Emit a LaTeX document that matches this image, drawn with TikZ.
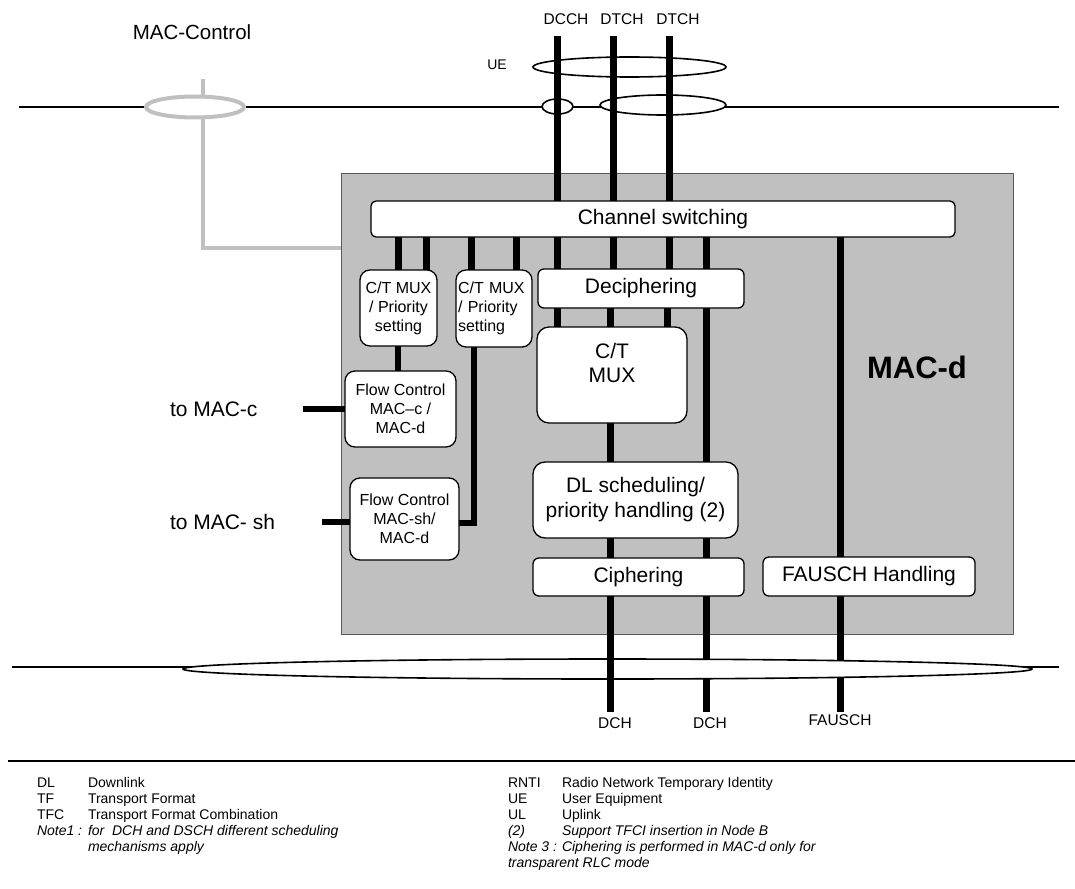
\documentclass[tikz,border=0pt]{standalone}
\usepackage{fontspec}
\setmainfont{Liberation Sans}
\usetikzlibrary{shapes.geometric}
\definecolor{boxgray}{RGB}{192,192,192}
\definecolor{edgegray}{RGB}{90,90,90}
\newcommand{\fsz}[2]{\fontsize{#1}{#2}\selectfont}
\pgfdeclarelayer{bg}
\pgfdeclarelayer{lines}
\pgfdeclarelayer{fg}
\pgfsetlayers{bg,lines,main,fg}
\tikzset{
  chan/.style={line width=7pt, black},
  link/.style={line width=6.5pt, black},
  graylink/.style={line width=4pt, boxgray},
  hline/.style={line width=1.6pt, black},
  rbox/.style={draw=black, line width=1.3pt, fill=white, inner sep=0pt, outer sep=0pt, align=center},
  ell/.style={ellipse, draw=black, line width=1.6pt, fill=white, inner sep=0pt, outer sep=0pt},
  lbl/.style={inner sep=0pt, outer sep=0pt},
  leg/.style={inner sep=0pt, outer sep=0pt, anchor=base west, font={\fsz{14}{17}}},
}
\begin{document}
\begin{tikzpicture}[x=1pt,y=-1pt]
\useasboundingbox (0,0) rectangle (1075,888);

% MAC-d frame
\begin{pgfonlayer}{bg}
\node[draw=edgegray, fill=boxgray, line width=0.8pt, minimum width=672pt, minimum height=461pt, inner sep=0pt, outer sep=0pt] (macd) at (677,403.5) {};
\end{pgfonlayer}
\node[lbl, font={\bfseries\fsz{31}{36}}] (macdlbl) at (917,367) {MAC-d};

% boxes
\node[rbox, rounded corners=5pt, minimum width=584pt, minimum height=36pt, font={\fsz{21}{25}}] (cs) at (663,219) {Channel switching};
\node[rbox, rounded corners=10pt, minimum width=77pt, minimum height=76pt, font={\fsz{16}{19}}] (b1) at (398.5,308) {C/T MUX\\/ Priority\\setting};
\node[rbox, rounded corners=10pt, minimum width=76pt, minimum height=77pt, text width=72pt, inner xsep=2pt, align=left, font={\fsz{16}{19}}] (b2) at (494,308.5) {C/T MUX\\/ Priority\\setting};
\node[rbox, rounded corners=10pt, minimum width=111pt, minimum height=76pt, font={\fsz{16}{19}}] (fc1) at (400.5,409) {Flow Control\\MAC--c /\\MAC-d};
\node[rbox, rounded corners=10pt, minimum width=109pt, minimum height=82pt, font={\fsz{16}{19}}] (fc2) at (404.5,519) {Flow Control\\MAC-sh/\\MAC-d};
\node[rbox, rounded corners=6pt, minimum width=206pt, minimum height=39pt, font={\fsz{21}{25}}] (dec) at (641,288.5) {Deciphering};
\node[rbox, rounded corners=12pt, minimum width=150pt, minimum height=96pt, font={\fsz{21}{24}}] (ctm) at (612,375) {C/T\\MUX\\\mbox{}};
\node[rbox, rounded corners=12pt, minimum width=205pt, minimum height=76pt, font={\fsz{21}{25}}] (dls) at (635.5,500) {DL scheduling/\\priority handling (2)};
\node[rbox, rounded corners=6pt, minimum width=211pt, minimum height=38pt, font={\fsz{21}{25}}] (cip) at (638.5,577) {Ciphering};
\node[rbox, rounded corners=6pt, minimum width=212pt, minimum height=39pt, font={\fsz{21}{25}}] (fau) at (869,576.5) {FAUSCH Handling};

% top part
\coordinate (tl) at (19,107);
\coordinate (tr) at (1059,107);
\coordinate (gtop) at (203,79);
\coordinate (gbend) at (203,248);
\begin{pgfonlayer}{bg}
\draw[hline] (tl) -- (tr);
\draw[graylink] (gtop) -- (gbend) -- (gbend -| macd.west);
\end{pgfonlayer}
\node[ellipse, draw=boxgray, line width=4pt, fill=white, inner sep=0pt, minimum width=98pt, minimum height=21pt] (gell) at (195,107) {};
\node[lbl, font={\fsz{20.5}{24}}] (macctl) at (192,32) {MAC-Control};

\node[ell, minimum width=193pt, minimum height=20pt] (ueell) at (629.5,67) {};
\node[ell, minimum width=31pt, minimum height=15pt] (sell) at (557.5,106.5) {};
\node[ell, minimum width=126pt, minimum height=20pt] (rell) at (663,105) {};
\node[lbl, font={\fsz{14}{17}}] (uelbl) at (497,65) {UE};
\node[lbl, font={\fsz{15.5}{18}}] (dcchl) at (566,19) {DCCH};
\node[lbl, font={\fsz{15.5}{18}}] (dtchl1) at (622,19) {DTCH};
\node[lbl, font={\fsz{15.5}{18}}] (dtchl2) at (678,19) {DTCH};

\coordinate (c1) at (557,36);
\coordinate (c2) at (613,36);
\coordinate (c3) at (669,36);
\begin{pgfonlayer}{fg}
\draw[chan] (c1) -- (c1 |- cs.north);
\draw[chan] (c2) -- (c2 |- cs.north);
\draw[chan] (c3) -- (c3 |- cs.north);
\end{pgfonlayer}

% inner connectors
\coordinate (x1) at (398,0);
\coordinate (x2) at (426,0);
\coordinate (x3) at (471,0);
\coordinate (x4) at (516,0);
\coordinate (x6) at (610,0);
\coordinate (x7) at (667,0);
\coordinate (bend2) at (474,523);
\coordinate (tomacc) at (303,409);
\coordinate (tomacsh) at (322,522);
\coordinate (e1) at (610,712);
\coordinate (e2) at (706,712);
\coordinate (e3) at (840,712);
\begin{pgfonlayer}{lines}
\draw[chan] (x1 |- cs.south) -- (x1 |- b1.north);
\draw[chan] (x2 |- cs.south) -- (x2 |- b1.north);
\draw[chan] (x3 |- cs.south) -- (x3 |- b2.north);
\draw[chan] (x4 |- cs.south) -- (x4 |- b2.north);
\draw[chan] (c1 |- cs.south) -- (c1 |- dec.north);
\draw[chan] (c2 |- cs.south) -- (c2 |- dec.north);
\draw[chan] (c3 |- cs.south) -- (c3 |- dec.north);
\draw[chan] (c1 |- dec.south) -- (c1 |- ctm.north);
\draw[chan] (x6 |- dec.south) -- (x6 |- ctm.north);
\draw[chan] (x7 |- dec.south) -- (x7 |- ctm.north);
\draw[chan] (x6 |- ctm.south) -- (x6 |- dls.north);
\draw[chan] (x6 |- dls.south) -- (x6 |- cip.north);
\draw[chan] (e2 |- cs.south) -- (e2);
\draw[chan] (e3 |- cs.south) -- (e3);
\draw[link] (x1 |- b1.south) -- (x1 |- fc1.north);
\draw[link] (tomacc) -- (fc1.west);
\draw[link] (tomacsh) -- (tomacsh -| fc2.west);
\draw[link] (bend2 |- b2.south) -- (bend2) -- (bend2 -| fc2.east);
\end{pgfonlayer}
\node[lbl, anchor=west, font={\fsz{21}{24}}] (tomaccl) at (170,409) {to MAC-c};
\node[lbl, anchor=west, font={\fsz{21}{24}}] (tomacshl) at (170,522) {to MAC- sh};

% bottom
\coordinate (bl) at (12,667);
\coordinate (br) at (1059,667);
\begin{pgfonlayer}{bg}
\draw[hline] (bl) -- (br);
\end{pgfonlayer}
\node[ell, minimum width=849pt, minimum height=20pt] (bell) at (607.5,669) {};
\begin{pgfonlayer}{fg}
\draw[chan] (x6 |- cip.south) -- (e1);
\end{pgfonlayer}
\node[lbl, font={\fsz{15.5}{18}}] (dch1) at (615,723) {DCH};
\node[lbl, font={\fsz{15.5}{18}}] (dch2) at (710,723) {DCH};
\node[lbl, font={\fsz{15.5}{18}}] (fauschl) at (840,720) {FAUSCH};

% legend
\coordinate (sl) at (8,761);
\coordinate (sr) at (1075,761);
\draw[hline] (sl) -- (sr);
\node[leg] (l1a) at (37,787) {DL};
\node[leg] (l1b) at (88,787) {Downlink};
\node[leg] (l2a) at (37,803) {TF};
\node[leg] (l2b) at (88,803) {Transport Format};
\node[leg] (l3a) at (37,819) {TFC};
\node[leg] (l3b) at (88,819) {Transport Format Combination};
\node[leg] (l4a) at (37,835) {\itshape Note1 :};
\node[leg] (l4b) at (88,835) {\itshape for\ \ DCH and DSCH different scheduling};
\node[leg] (l5b) at (88,851) {\itshape mechanisms apply};
\node[leg] (r1a) at (508,787) {RNTI};
\node[leg] (r1b) at (562,787) {Radio Network Temporary Identity};
\node[leg] (r2a) at (508,803) {UE};
\node[leg] (r2b) at (562,803) {User Equipment};
\node[leg] (r3a) at (508,819) {UL};
\node[leg] (r3b) at (562,819) {Uplink};
\node[leg] (r4a) at (508,835) {\itshape (2)};
\node[leg] (r4b) at (562,835) {\itshape Support TFCI insertion in Node B};
\node[leg] (r5a) at (508,851) {\itshape Note 3 :};
\node[leg] (r5b) at (562,851) {\itshape Ciphering is performed in MAC-d only for};
\node[leg] (r6a) at (508,867) {\itshape transparent RLC mode};
\end{tikzpicture}
\end{document}
